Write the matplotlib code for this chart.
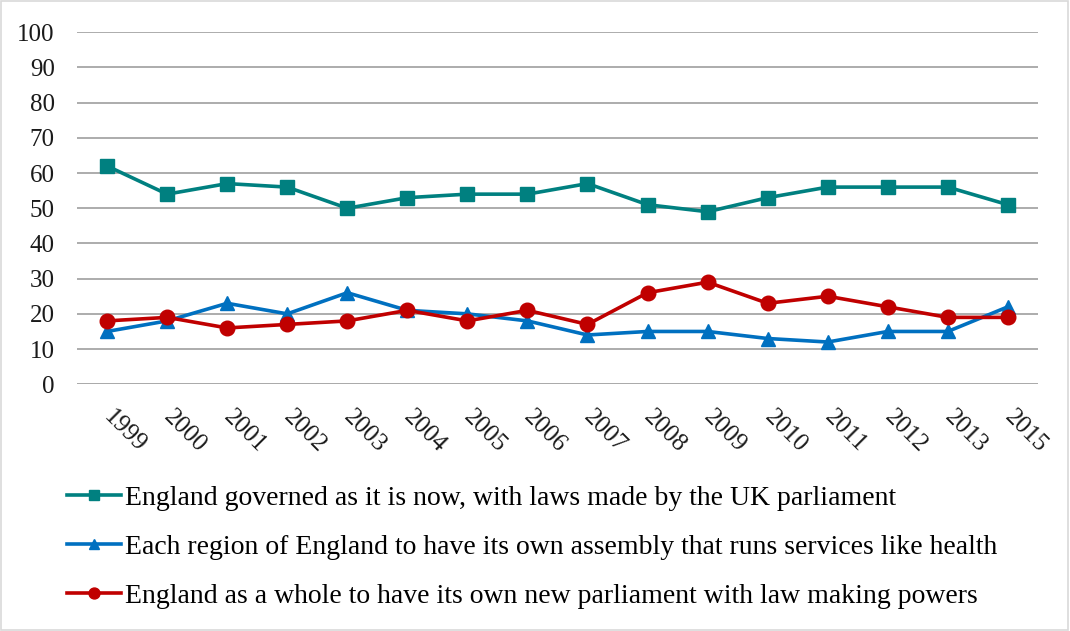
import numpy as np
import matplotlib
matplotlib.use("Agg")
from matplotlib import pyplot as plt
from matplotlib.patches import Rectangle

years = [str(y) for y in range(1999, 2016)]
years.remove("2014")

uk_parliament = [62, 54, 57, 56, 50, 53, 54, 54, 57, 51, 49, 53, 56, 56, 56, 51]
regional_assembly = [15, 18, 23, 20, 26, 21, 20, 18, 14, 15, 15, 13, 12, 15, 15, 22]
english_parliament = [18, 19, 16, 17, 18, 21, 18, 21, 17, 26, 29, 23, 25, 22, 19, 19]

labels = [
    "England governed as it is now, with laws made by the UK parliament",
    "Each region of England to have its own assembly that runs services like health",
    "England as a whole to have its own new parliament with law making powers",
]

plt.rcParams['font.family'] = ['Liberation Serif', 'DejaVu Serif']

fig = plt.figure(figsize=(10.7, 6.31), dpi=100)
ax = fig.add_axes([0.072, 0.391, 0.898, 0.558])

x = np.arange(len(years))
ax.plot(x, uk_parliament, color="#008080", lw=2.6, marker="s", ms=9.5,
        label=labels[0])
ax.plot(x, regional_assembly, color="#0070C0", lw=2.6, marker="^", ms=10.5,
        label=labels[1])
ax.plot(x, english_parliament, color="#C00000", lw=2.6, marker="o", ms=10.5,
        label=labels[2])

ax.set_xlim(-0.5, len(years) - 0.5)
ax.set_ylim(0, 100)
ax.set_yticks(range(0, 101, 10))
ax.yaxis.grid(True, color="#A6A6A6", lw=1.3)
ax.set_axisbelow(True)
for s in ax.spines.values():
    s.set_visible(False)
ax.axhline(0, color="#D9D9D9", lw=1.8, zorder=0.5)
ax.tick_params(axis='both', length=0, labelsize=18, labelcolor="#1a1a1a")
ax.tick_params(axis='y', pad=16)
ax.set_xticks(x)
ax.set_xticklabels(years, rotation=-45, ha='left', va='center',
                   rotation_mode='anchor')
ax.tick_params(axis='x', pad=21)

handles, labs = ax.get_legend_handles_labels()
leg = fig.legend(handles, labs, loc='upper left', bbox_to_anchor=(0.039, 0.27),
                 frameon=False, fontsize=20, handlelength=1.95, labelspacing=0.84,
                 handletextpad=0.15, markerscale=0.75)

fig.patches.append(Rectangle((0.001, 0.001), 0.997, 0.997, transform=fig.transFigure,
                             fill=False, edgecolor="#D9D9D9", lw=1.2))

fig.savefig("out.png", dpi=100)
